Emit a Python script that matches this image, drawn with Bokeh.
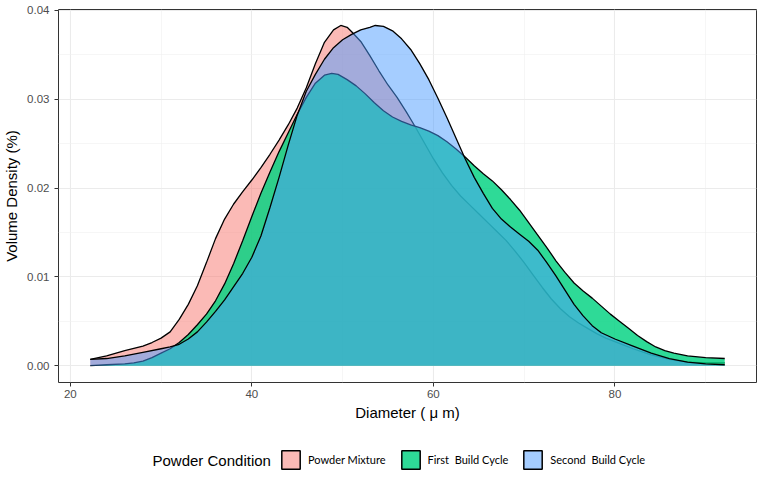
from bokeh.plotting import figure
from bokeh.models import FixedTicker, PrintfTickFormatter, Legend, LegendItem, Range1d, Label
from bokeh.layouts import column
from bokeh.embed import file_html
from bokeh.resources import INLINE

# ---------------- data ----------------
legend_title = "Powder Condition"
series_names = ["Powder Mixture", "First  Build Cycle", "Second  Build Cycle"]

pink_x = [22.2, 24, 26, 28, 29, 30, 31, 32, 33, 34, 35, 36, 37, 38, 39, 40, 41, 42, 43, 44,
          45, 46, 47, 48, 49, 49.8, 50.5, 51, 52, 53, 54, 55, 56, 57, 58, 59, 60, 61, 62, 63,
          64, 65, 66, 67, 68, 69, 70, 71, 72, 73, 74, 75, 76, 77, 78, 79, 80, 82, 84, 86, 88,
          90, 92.1]
pink_y = [0.0007, 0.0011, 0.0017, 0.0022, 0.0026, 0.0031, 0.0038, 0.0052, 0.0069, 0.0090,
          0.0116, 0.0143, 0.0165, 0.0182, 0.0196, 0.0209, 0.0223, 0.0238, 0.0254, 0.0271,
          0.0290, 0.0313, 0.0340, 0.0364, 0.0378, 0.0383, 0.0381, 0.0376, 0.0365, 0.0349,
          0.0332, 0.0316, 0.0302, 0.0286, 0.0269, 0.0251, 0.0233, 0.0217, 0.0203, 0.0191,
          0.0181, 0.0171, 0.0161, 0.0151, 0.0141, 0.0129, 0.0116, 0.0102, 0.0088, 0.0075,
          0.0064, 0.0055, 0.0048, 0.0042, 0.0036, 0.0031, 0.0027, 0.0019, 0.0012, 0.0007,
          0.0004, 0.0003, 0.0003]

green_x = [22.2, 24, 26, 27, 28, 29, 30, 31, 32, 33, 34, 35, 36, 37, 38, 39, 40, 41, 42, 43,
           44, 45, 46, 47, 48, 48.8, 49.5, 50.5, 51.5, 52.5, 53.5, 54.5, 55.5, 56.5, 57.5,
           58.5, 59.5, 60.5, 61.5, 62.5, 63.5, 64.5, 65.5, 66.5, 67.5, 68.5, 69.5, 70.5, 71.5,
           72.5, 73.5, 74.5, 75.5, 76.5, 77.5, 78.5, 79.5, 80.5, 81.5, 82.5, 83.5, 84.5, 85.5,
           86.5, 88, 90, 92.1]
green_y = [0.0000, 0.0001, 0.0002, 0.0003, 0.0005, 0.0009, 0.0014, 0.0019, 0.0026, 0.0035,
           0.0046, 0.0058, 0.0073, 0.0092, 0.0115, 0.0141, 0.0168, 0.0194, 0.0218, 0.0241,
           0.0262, 0.0283, 0.0302, 0.0318, 0.0327, 0.0329, 0.0328, 0.0322, 0.0315, 0.0306,
           0.0296, 0.0287, 0.0280, 0.0275, 0.0271, 0.0268, 0.0264, 0.0259, 0.0252, 0.0244,
           0.0235, 0.0225, 0.0216, 0.0208, 0.0198, 0.0187, 0.0175, 0.0161, 0.0147, 0.0133,
           0.0118, 0.0105, 0.0093, 0.0084, 0.0076, 0.0067, 0.0058, 0.0050, 0.0042, 0.0034,
           0.0027, 0.0021, 0.0017, 0.0014, 0.0011, 0.0009, 0.0008]

blue_x = [22.2, 24, 26, 28, 30, 31, 32, 33, 34, 35, 36, 37, 38, 39, 40, 41, 42, 43, 44, 45,
          46, 47, 48, 49, 50, 51, 52, 53, 53.6, 54.5, 55.5, 56.5, 57.5, 58.5, 59.5, 60.5, 61.5,
          62.5, 63.5, 64.5, 65.5, 66.5, 67.5, 68.5, 69.5, 70.5, 71.5, 72.5, 73.5, 74.5, 75.5,
          76.5, 77.5, 78.5, 80, 82, 84, 86, 88, 90, 92.1]
blue_y = [0.0007, 0.0008, 0.0011, 0.0015, 0.0019, 0.0021, 0.0024, 0.0030, 0.0038, 0.0049,
          0.0061, 0.0074, 0.0089, 0.0104, 0.0122, 0.0146, 0.0178, 0.0212, 0.0248, 0.0282,
          0.0309, 0.0328, 0.0345, 0.0358, 0.0367, 0.0373, 0.0378, 0.0381, 0.0383, 0.0382,
          0.0377, 0.0368, 0.0356, 0.0340, 0.0322, 0.0301, 0.0279, 0.0256, 0.0233, 0.0212,
          0.0194, 0.0177, 0.0165, 0.0156, 0.0148, 0.0140, 0.0130, 0.0116, 0.0101, 0.0085,
          0.0069, 0.0056, 0.0045, 0.0037, 0.0030, 0.0022, 0.0014, 0.0008, 0.0004, 0.0002,
          0.0001]

x_ticks = [20, 40, 60, 80]
x_minor = [30, 50, 70, 90]
y_ticks = [0.00, 0.01, 0.02, 0.03, 0.04]
y_minor = [0.005, 0.015, 0.025, 0.035]

fill_colors = ["#F8766D", "#00D280", "#4B9BFF"]
fill_alphas = [0.5, 0.82, 0.5]

# ---------------- main figure ----------------
p = figure(width=760, height=430, output_backend="svg", toolbar_location=None,
           x_range=Range1d(18.7, 95.6), y_range=Range1d(-0.0019, 0.0401),
           min_border_left=55, min_border_right=4, min_border_top=9, min_border_bottom=48)

p.background_fill_color = "white"
p.border_fill_color = "white"
p.outline_line_color = "#333333"
p.outline_line_width = 1

series = [(pink_x, pink_y), (green_x, green_y), (blue_x, blue_y)]
for (xs, ys), c, a in zip(series, fill_colors, fill_alphas):
    p.varea(x=xs, y1=[0] * len(xs), y2=ys, fill_color=c, fill_alpha=a)
    p.line(x=xs, y=ys, line_color="black", line_width=1.3)

p.xaxis.ticker = FixedTicker(ticks=x_ticks, minor_ticks=x_minor)
p.yaxis.ticker = FixedTicker(ticks=y_ticks, minor_ticks=y_minor)
p.yaxis.formatter = PrintfTickFormatter(format="%.2f")
for ax in (p.xaxis, p.yaxis):
    ax.axis_line_color = None
    ax.major_tick_line_color = "#333333"
    ax.major_tick_in = 0
    ax.major_tick_out = 4
    ax.minor_tick_line_color = None
    ax.major_label_text_font = "Liberation Sans"
    ax.major_label_text_font_size = "11.5px"
    ax.major_label_text_color = "#4D4D4D"
    ax.axis_label_text_font = "Liberation Sans"
    ax.axis_label_text_font_size = "15px"
    ax.axis_label_text_font_style = "normal"
    ax.axis_label_text_color = "black"
p.xaxis.major_label_standoff = 3
p.yaxis.major_label_standoff = 5
p.xaxis.axis_label_standoff = 3
p.yaxis.axis_label_standoff = 4
p.xaxis.axis_label = "Diameter ( μ m)"
p.yaxis.axis_label = "Volume Density (%)"

for g in (p.xgrid, p.ygrid):
    g.grid_line_color = "#EBEBEB"
    g.grid_line_width = 1.1
    g.minor_grid_line_color = "#F0F0F0"
    g.minor_grid_line_width = 0.6

# ---------------- legend strip ----------------
lg = figure(width=760, height=48, output_backend="svg", toolbar_location=None,
            x_range=Range1d(0, 1), y_range=Range1d(0, 1),
            x_axis_type=None, y_axis_type=None,
            min_border_left=0, min_border_right=0, min_border_top=0, min_border_bottom=0)
lg.outline_line_color = None
lg.grid.visible = False

nan = float("nan")
items = []
for name, c, a in zip(series_names, fill_colors, fill_alphas):
    r = lg.quad(left=[nan], right=[nan], top=[nan], bottom=[nan], fill_color=c, fill_alpha=a,
                line_color="black", line_width=1.5)
    items.append(LegendItem(label=name, renderers=[r]))

# the strip's frame is aligned with the main frame (starts ~58 px from the left edge)
legend = Legend(items=items, orientation="horizontal", location=(221, 7),
                label_text_font="Lato", label_text_font_size="11px", label_text_color="black",
                glyph_width=23, glyph_height=23, label_standoff=6, spacing=13,
                padding=0, margin=0, border_line_color=None, background_fill_alpha=0)
lg.add_layout(legend)
lg.add_layout(Label(x=94, y=18, x_units="screen", y_units="screen", text=legend_title,
                    text_font="Liberation Sans", text_font_size="15px", text_color="black",
                    text_align="left", text_baseline="middle"))

open("out.html", "w").write(file_html(column(p, lg, spacing=0), INLINE))
